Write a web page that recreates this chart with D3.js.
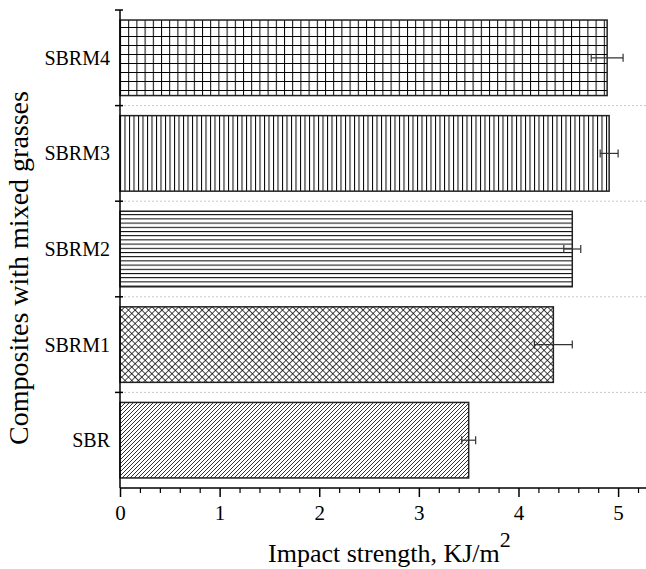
<!DOCTYPE html>
<html>
<head>
<meta charset="utf-8">
<script src="https://cdn.jsdelivr.net/npm/d3@7"></script>
<style>
  html, body { margin: 0; padding: 0; background: #fff; }
  svg { display: block; }
</style>
</head>
<body>
<svg id="chart" width="646" height="569"></svg>
<script>
// ---- data ----
const categories = ["SBR", "SBRM1", "SBRM2", "SBRM3", "SBRM4"];
const impactValues = [3.50, 4.35, 4.54, 4.91, 4.89];
const impactErrors = [0.07, 0.19, 0.085, 0.09, 0.16];
const xTicks = [0, 1, 2, 3, 4, 5];
const patternIds = ["pDiag", "pCross", "pHoriz", "pVert", "pGrid"];
const xTitle = "Impact strength, KJ/m";
const xTitleSup = "2";
const yTitle = "Composites with mixed grasses";

// ---- layout ----
const FONT = "'Liberation Serif', 'DejaVu Serif', 'Times New Roman', serif";
const plotL = 120, plotR = 646, plotT = 10, plotB = 488;

const svg = d3.select("#chart");

const x = d3.scaleLinear().domain([0, 5.28]).range([plotL, plotR]);
const y = d3.scaleBand().domain(categories.slice().reverse()).range([plotT, plotB]).padding(0);
const inset = y.bandwidth() * 0.105;

// ---- patterns ----
const defs = svg.append("defs");
function pat(id, w, h, transform) {
  const p = defs.append("pattern").attr("id", id)
    .attr("patternUnits", "userSpaceOnUse")
    .attr("width", w).attr("height", h)
    .attr("x", plotL).attr("y", 0);
  if (transform) p.attr("patternTransform", transform);
  p.append("rect").attr("width", w).attr("height", h).attr("fill", "#fff");
  return p;
}
// SBR: diagonal "/"
{
  const p = pat("pDiag", 4, 4);
  p.append("path").attr("d", "M-1,1 L1,-1 M0,4 L4,0 M3,5 L5,3")
    .attr("stroke", "#000").attr("stroke-width", 0.8);
}
// SBRM1: crosshatch
{
  const s = 4.74;
  const p = pat("pCross", s, s, "rotate(45)");
  p.append("path").attr("d", `M0,0 L0,${s} M0,0 L${s},0`)
    .attr("stroke", "#000").attr("stroke-width", 1.4);
}
// SBRM2: horizontal lines
{
  const p = pat("pHoriz", 10, 4.2);
  p.append("line").attr("x1", 0).attr("x2", 10).attr("y1", 0.5).attr("y2", 0.5)
    .attr("stroke", "#000").attr("stroke-width", 1);
}
// SBRM3: vertical lines
{
  const p = pat("pVert", 4.5, 10);
  p.append("line").attr("x1", 0.5).attr("x2", 0.5).attr("y1", 0).attr("y2", 10)
    .attr("stroke", "#000").attr("stroke-width", 1);
}
// SBRM4: grid
{
  const p = pat("pGrid", 8.2, 9);
  p.append("path").attr("d", "M0.5,0 L0.5,9 M0,0.5 L8.2,0.5")
    .attr("stroke", "#000").attr("stroke-width", 1);
}

// ---- gridlines at band boundaries ----
const boundaries = categories.slice(1).map(c => y(c) + y.bandwidth());
svg.append("g").selectAll("line").data(boundaries).join("line")
  .attr("x1", plotL).attr("x2", plotR)
  .attr("y1", d => d).attr("y2", d => d)
  .attr("stroke", "#c8c8c8").attr("stroke-width", 1)
  .attr("stroke-dasharray", "2,2");

// ---- bars ----
svg.append("g").selectAll("rect").data(categories).join("rect")
  .attr("x", x(0))
  .attr("y", d => y(d) + inset)
  .attr("width", (d, i) => x(impactValues[i]) - x(0))
  .attr("height", y.bandwidth() - 2 * inset)
  .attr("fill", (d, i) => `url(#${patternIds[i]})`)
  .attr("stroke", "#222").attr("stroke-width", 1.5);

// ---- error bars ----
const eg = svg.append("g").attr("stroke", "#333").attr("stroke-width", 1.2);
categories.forEach((c, i) => {
  const cy = y(c) + y.bandwidth() / 2;
  const x0 = x(impactValues[i] - impactErrors[i]);
  const x1 = x(impactValues[i] + impactErrors[i]);
  eg.append("line").attr("x1", x0).attr("x2", x1).attr("y1", cy).attr("y2", cy);
  eg.append("line").attr("x1", x0).attr("x2", x0).attr("y1", cy - 4).attr("y2", cy + 4);
  eg.append("line").attr("x1", x1).attr("x2", x1).attr("y1", cy - 4).attr("y2", cy + 4);
});

// ---- x axis ----
const xAxisG = svg.append("g").attr("transform", `translate(0,${plotB})`);
const minorTicks = d3.range(0, 5.3, 0.2).filter(v => Math.abs(v - Math.round(v)) > 1e-6);
xAxisG.append("g")
  .call(d3.axisBottom(x).tickValues(minorTicks).tickSize(5).tickFormat(""))
  .call(g => g.select(".domain").remove())
  .call(g => g.selectAll("line").attr("stroke", "#000").attr("stroke-width", 1.2));
xAxisG.append("g")
  .call(d3.axisBottom(x).tickValues(xTicks).tickSize(9).tickPadding(8).tickFormat(d3.format("d")))
  .attr("font-family", FONT).attr("font-size", 21)
  .call(g => g.select(".domain").attr("stroke", "#000").attr("stroke-width", 1.5).attr("d", `M${plotL},0H${plotR}`))
  .call(g => g.selectAll("line").attr("stroke", "#000").attr("stroke-width", 1.5))
  .call(g => g.selectAll("text").attr("font-size", 21).attr("font-family", FONT).attr("fill", "#000"));

// ---- y axis ----
svg.append("line").attr("x1", plotL).attr("x2", plotL).attr("y1", plotT).attr("y2", plotB)
  .attr("stroke", "#000").attr("stroke-width", 1.5);
svg.append("g").selectAll("line").data([plotT].concat(boundaries)).join("line")
  .attr("x1", plotL - 5).attr("x2", plotL + 3)
  .attr("y1", d => d).attr("y2", d => d)
  .attr("stroke", "#000").attr("stroke-width", 1.5);
svg.append("g").selectAll("text").data(categories).join("text")
  .attr("x", plotL - 10)
  .attr("y", d => y(d) + y.bandwidth() / 2)
  .attr("dy", "0.35em")
  .attr("text-anchor", "end")
  .attr("font-family", FONT)
  .attr("font-size", 20)
  .text(d => d);

// ---- titles ----
const xt = svg.append("text").attr("x", 268).attr("y", 562)
  .attr("font-family", FONT).attr("font-size", 26);
xt.append("tspan").text(xTitle);
xt.append("tspan").attr("dy", -15).attr("font-size", 22).text(xTitleSup);

svg.append("text")
  .attr("transform", "translate(28,268) rotate(-90)")
  .attr("text-anchor", "middle")
  .attr("font-family", FONT)
  .attr("font-size", 28)
  .text(yTitle);
</script>
</body>
</html>
